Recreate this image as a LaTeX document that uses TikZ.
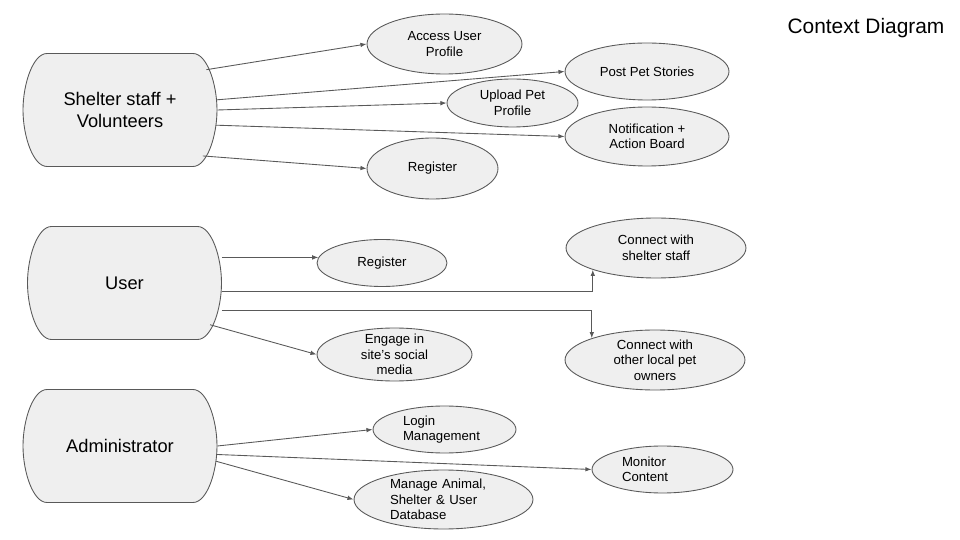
\documentclass[tikz,border=0pt]{standalone}
\usepackage{fontspec}
\setmainfont{Liberation Sans}
\usetikzlibrary{arrows.meta,calc,shapes.geometric,shapes.misc,backgrounds}
\definecolor{boxfill}{RGB}{239,239,239}
\definecolor{lineclr}{RGB}{89,89,89}

\tikzset{
  actor/.style={rounded rectangle, rounded rectangle arc length=90,
    minimum width=3.88cm, minimum height=2.26cm, inner sep=0pt,
    align=center, font=\fontsize{10.4}{12.9}\selectfont},
  actorline/.style={draw=lineclr, fill=boxfill, line width=0.5pt},
  usecase/.style={ellipse, draw=lineclr, fill=boxfill, line width=0.5pt,
    inner sep=0pt, align=center, font=\fontsize{7.5}{8.8}\selectfont},
  flow/.style={-{Latex[length=3.5pt,width=2.6pt]}, draw=lineclr, line width=0.5pt},
}

\begin{document}
\begin{tikzpicture}[x=0.02cm,y=-0.02cm]
\useasboundingbox (0,0) rectangle (960,540);

\node[font=\fontsize{11.9}{14}\selectfont] (title) at (866,28) {Context Diagram};

% shelter staff + volunteers
\node[actor] (staff) at (120,110) {Shelter staff +\\Volunteers};
\node[usecase, minimum width=3.1cm, minimum height=1.2cm] (access) at (444.5,44) {Access User\\Profile};
\node[usecase, minimum width=3.28cm, minimum height=1.14cm] (post) at (647,71.5) {Post Pet Stories};
\node[usecase, minimum width=2.62cm, minimum height=0.96cm] (upload) at (512.5,103) {Upload Pet\\Profile};
\node[usecase, minimum width=3.28cm, minimum height=1.18cm] (notice) at (647,136.5) {Notification +\\Action Board};
\node[usecase, minimum width=2.62cm, minimum height=1.22cm] (sreg) at (432.5,168.5) {Register};

\draw[flow] (staff.25) -- (access.west);
\draw[flow] (staff.6) -- (post.west);
\draw[flow] (staff.0) -- (upload.west);
\draw[flow] (staff.-9) -- (notice.west);
\draw[flow] (staff.-29) -- (sreg.west);

% user
\node[actor] (user) at (124.5,283) {User};
\node[usecase, minimum width=2.6cm, minimum height=0.94cm] (ureg) at (382,263) {Register};
\node[usecase, minimum width=3.1cm, minimum height=1.06cm, inner ysep=-2pt] (engage) at (394.5,354.5) {Engage in\\site's social\\media};
\node[usecase, minimum width=3.6cm, minimum height=1.2cm] (cstaff) at (656,248) {Connect with\\shelter staff};
\node[usecase, minimum width=3.6cm, minimum height=1.2cm] (cowner) at (655,360) {Connect with\\other local pet\\owners};

\draw[flow] (ureg.175 -| user.east) -- (ureg.175);
\draw[flow] ($(user.east)+(0,8)$) -| (cstaff.199);
\draw[flow] ($(user.east)+(0,27)$) -| (cowner.161);
\draw[flow] (user.-26) -- (engage.west);

% administrator
\node[actor] (admin) at (120,446) {Administrator};
\node[usecase, align=left, text width=1.66cm, minimum width=2.86cm, minimum height=0.94cm] (login) at (444.5,429.5) {Login\\Management};
\node[usecase, align=left, text width=1.62cm, minimum width=2.82cm, minimum height=0.94cm] (monitor) at (662.5,469.5) {Monitor\\Content};
\node[usecase, align=left, text width=2.14cm, minimum width=3.58cm, minimum height=1.18cm] (manage) at (443.5,499.5) {Manage Animal,\\Shelter \& User\\Database};

\draw[flow] (admin.east) -- (login.west);
\draw[flow] (admin.-5) -- (monitor.west);
\draw[flow] (admin.-9) -- (manage.west);

% actor outlines, bulging sides
\begin{scope}[on background layer]
\foreach \n in {staff,user,admin}
  \draw[actorline] ($(\n)+(-73,-56.5)$) -- ($(\n)+(73,-56.5)$)
    .. controls ($(\n)+(87,-56.5)$) and ($(\n)+(97,-26)$) .. ($(\n)+(97,0)$)
    .. controls ($(\n)+(97,26)$) and ($(\n)+(87,56.5)$) .. ($(\n)+(73,56.5)$)
    -- ($(\n)+(-73,56.5)$)
    .. controls ($(\n)+(-87,56.5)$) and ($(\n)+(-97,26)$) .. ($(\n)+(-97,0)$)
    .. controls ($(\n)+(-97,-26)$) and ($(\n)+(-87,-56.5)$) .. cycle;
\end{scope}
\end{tikzpicture}
\end{document}
